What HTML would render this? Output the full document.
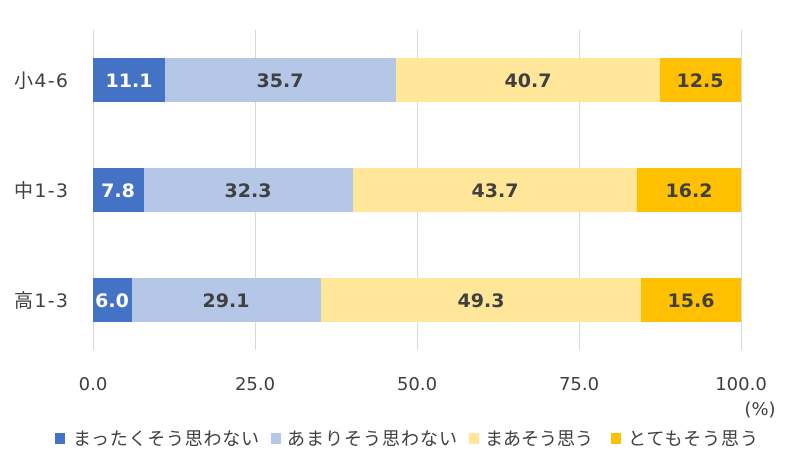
<!DOCTYPE html>
<html><head><meta charset="utf-8"><style>
body{margin:0;background:#fff;}
svg text{font-family:"DejaVu Sans","Noto Sans CJK JP",sans-serif;}
</style></head><body>
<svg width="800" height="471" xmlns="http://www.w3.org/2000/svg">
<g stroke="#d9d9d9" stroke-width="1">
<line x1="93.5" y1="30" x2="93.5" y2="350"/>
<line x1="255.5" y1="30" x2="255.5" y2="350"/>
<line x1="417.5" y1="30" x2="417.5" y2="350"/>
<line x1="579.5" y1="30" x2="579.5" y2="350"/>
<line x1="741.5" y1="30" x2="741.5" y2="350"/>
</g>
<g font-size="19" font-weight="bold" text-anchor="middle" fill="#404040">
<rect x="93" y="58" width="72" height="44" fill="#4472C4"/>
<rect x="165" y="58" width="231" height="44" fill="#B4C7E7"/>
<rect x="396" y="58" width="264" height="44" fill="#FFE699"/>
<rect x="660" y="58" width="81" height="44" fill="#FFC000"/>
<text x="129" y="87" fill="#fff">11.1</text>
<text x="280" y="87">35.7</text>
<text x="528" y="87">40.7</text>
<text x="700" y="87">12.5</text>

<rect x="93" y="168" width="51" height="44" fill="#4472C4"/>
<rect x="144" y="168" width="209" height="44" fill="#B4C7E7"/>
<rect x="353" y="168" width="284" height="44" fill="#FFE699"/>
<rect x="637" y="168" width="104" height="44" fill="#FFC000"/>
<text x="118" y="197" fill="#fff">7.8</text>
<text x="248" y="197">32.3</text>
<text x="495" y="197">43.7</text>
<text x="689" y="197">16.2</text>

<rect x="93" y="278" width="39" height="44" fill="#4472C4"/>
<rect x="132" y="278" width="189" height="44" fill="#B4C7E7"/>
<rect x="321" y="278" width="320" height="44" fill="#FFE699"/>
<rect x="641" y="278" width="100" height="44" fill="#FFC000"/>
<text x="112" y="307" fill="#fff">6.0</text>
<text x="226" y="307">29.1</text>
<text x="481" y="307">49.3</text>
<text x="691" y="307">15.6</text>
</g>
<g font-size="19" fill="#404040">
<text x="14" y="87" textLength="54">小4-6</text>
<text x="14" y="197" textLength="54">中1-3</text>
<text x="14" y="307" textLength="54">高1-3</text>
</g>
<g font-size="18" fill="#404040" text-anchor="middle">
<text x="93" y="390">0.0</text>
<text x="255" y="390">25.0</text>
<text x="417" y="390">50.0</text>
<text x="579" y="390">75.0</text>
<text x="741" y="390">100.0</text>
<text x="760" y="415">(%)</text>
</g>
<g font-size="18" fill="#404040">
<rect x="55" y="433" width="10" height="11" fill="#4472C4"/>
<text x="73" y="445" textLength="186">まったくそう思わない</text>
<rect x="271" y="433" width="10" height="11" fill="#B4C7E7"/>
<text x="287" y="445" textLength="170">あまりそう思わない</text>
<rect x="469" y="433" width="10" height="11" fill="#FFE699"/>
<text x="485" y="445" textLength="108">まあそう思う</text>
<rect x="611" y="433" width="10" height="11" fill="#FFC000"/>
<text x="628" y="445" textLength="130">とてもそう思う</text>
</g>
</svg>
</body></html>
